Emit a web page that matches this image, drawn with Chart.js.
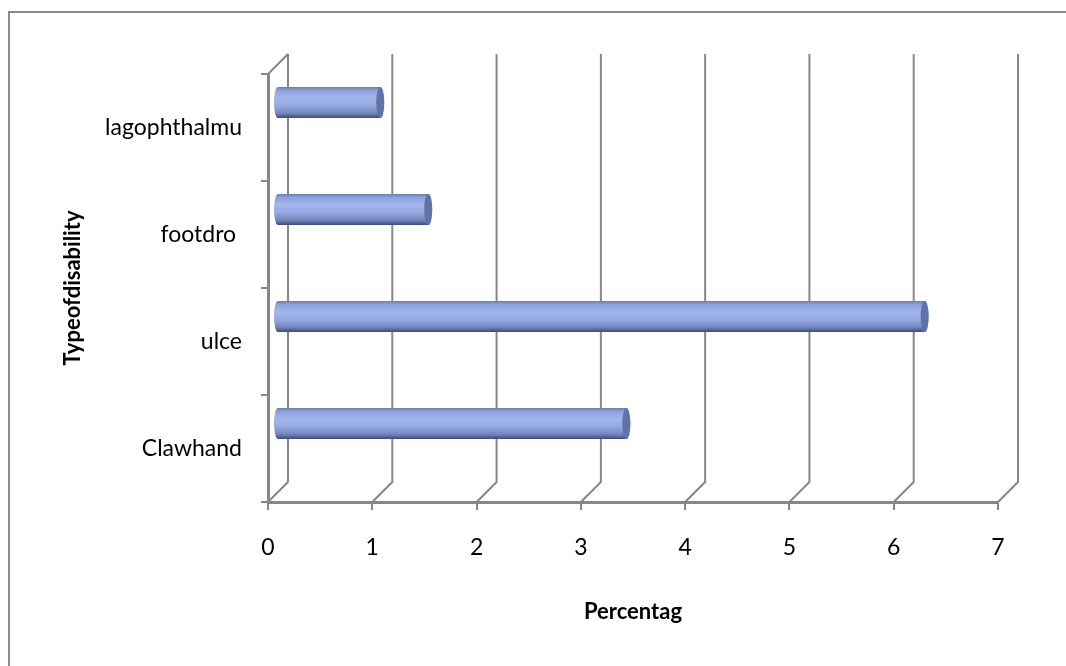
<!DOCTYPE html>
<html lang="en">
<head>
    <meta charset="UTF-8">
    <title>Type of disability</title>
    <script src="https://cdn.jsdelivr.net/npm/chart.js"></script>
    <style>
        body { margin: 0; background: #fff; }
        #wrap { width: 1066px; height: 666px; }
    </style>
</head>
<body>
    <div id="wrap"><canvas id="disabilityChart" width="1066" height="666"></canvas></div>

    <script>
        // Data (bottom to top)
        const categories = ['Clawhand', 'ulce', 'footdro ', 'lagophthalmu'];
        const percentages = [3.35, 6.21, 1.45, 0.99];
        const xTicks = [0, 1, 2, 3, 4, 5, 6, 7];

        const gridGray = '#878787';
        const depth = 20;        // 3D wall offset
        const barShiftX = 9;     // bars sit half way into the depth
        const barShiftY = -25;

        // Cylinder drawn for every bar element
        function drawCylinder(ctx, x0, x1, yc, h) {
            const rx = 4, ry = h / 2;
            const g = ctx.createLinearGradient(0, yc - ry, 0, yc + ry);
            g.addColorStop(0, '#6a7db5');
            g.addColorStop(0.12, '#8ea3dc');
            g.addColorStop(0.35, '#a2b7ec');
            g.addColorStop(0.6, '#95aae2');
            g.addColorStop(0.85, '#7384bb');
            g.addColorStop(1, '#414a70');
            ctx.beginPath();
            ctx.ellipse(x0, yc, rx, ry, 0, Math.PI / 2, Math.PI * 1.5);
            ctx.lineTo(x1, yc - ry);
            ctx.ellipse(x1, yc, rx, ry, 0, -Math.PI / 2, Math.PI / 2);
            ctx.closePath();
            ctx.fillStyle = g;
            ctx.fill();

            ctx.beginPath();
            ctx.ellipse(x1, yc, rx, ry, 0, 0, Math.PI * 2);
            ctx.fillStyle = '#6072a6';
            ctx.fill();
        }

        const threeD = {
            id: 'threeD',
            beforeDraw(chart) {
                const ctx = chart.ctx;
                ctx.save();
                ctx.strokeStyle = '#8c8c8c';
                ctx.lineWidth = 2;
                ctx.strokeRect(9, 12, 1100, 700);
                ctx.restore();
            },
            beforeDatasetsDraw(chart) {
                const ctx = chart.ctx;
                const area = chart.chartArea;
                const xs = chart.scales.x;
                ctx.save();
                ctx.strokeStyle = gridGray;
                ctx.lineWidth = 2;
                ctx.beginPath();
                xTicks.forEach(t => {
                    const px = xs.getPixelForValue(t);
                    ctx.moveTo(px, area.bottom);
                    ctx.lineTo(px + depth, area.bottom - depth);
                    ctx.lineTo(px + depth, area.top - depth);
                });
                ctx.moveTo(area.left, area.top);
                ctx.lineTo(area.left + depth, area.top - depth);
                ctx.stroke();
                ctx.restore();
            },
            afterDatasetsDraw(chart) {
                const ctx = chart.ctx;
                const meta = chart.getDatasetMeta(0);
                ctx.save();
                meta.data.forEach(bar => {
                    drawCylinder(ctx, bar.base + barShiftX, bar.x + barShiftX, bar.y + barShiftY, bar.height);
                });
                ctx.restore();
            }
        };

        const ctx = document.getElementById('disabilityChart').getContext('2d');

        new Chart(ctx, {
            type: 'bar',
            data: {
                labels: categories,
                datasets: [{
                    label: 'Percentag',
                    data: percentages,
                    backgroundColor: 'rgba(0,0,0,0)',
                    borderWidth: 0,
                    barPercentage: 0.29,
                    categoryPercentage: 1
                }]
            },
            options: {
                indexAxis: 'y',
                responsive: false,
                animation: false,
                layout: { padding: { left: 60, right: 68, top: 74, bottom: 41 } },
                plugins: {
                    legend: { display: false },
                    tooltip: { enabled: false }
                },
                scales: {
                    x: {
                        min: 0,
                        max: 7,
                        afterFit: s => { s.height = 123; },
                        ticks: {
                            stepSize: 1,
                            padding: 24,
                            color: '#000',
                            font: { family: 'Lato', size: 23 }
                        },
                        grid: { drawOnChartArea: false, tickLength: 8, color: gridGray, lineWidth: 2 },
                        border: { display: true, color: gridGray, width: 3 },
                        title: {
                            display: true,
                            text: 'Percentag',
                            color: '#000',
                            padding: 0,
                            font: { family: 'Lato', size: 22, weight: 'bold' }
                        }
                    },
                    y: {
                        reverse: true,
                        afterFit: s => { s.width = 208; },
                        ticks: {
                            padding: 19,
                            color: '#000',
                            font: { family: 'Lato', size: 23 }
                        },
                        grid: { drawOnChartArea: false, offset: true, tickLength: 7, color: gridGray, lineWidth: 2 },
                        border: { display: true, color: gridGray, width: 3 },
                        title: {
                            display: true,
                            text: 'Typeofdisability',
                            color: '#000',
                            padding: 0,
                            font: { family: 'Lato', size: 22, weight: 'bold' }
                        }
                    }
                }
            },
            plugins: [threeD]
        });
    </script>
</body>
</html>
